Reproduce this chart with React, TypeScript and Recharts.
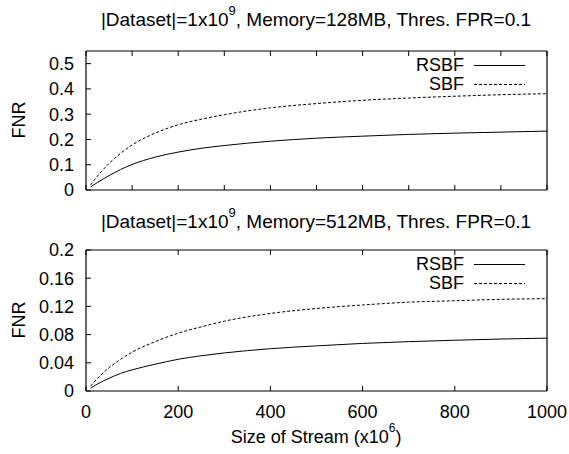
import React from 'react';
import { LineChart, Line, XAxis, YAxis, Legend } from 'recharts';

const streamSize = [10, 25, 50, 75, 100, 150, 200, 250, 300, 400, 500, 600, 700, 800, 900, 1000];
const rsbf128 = [0.012, 0.03, 0.057, 0.081, 0.101, 0.13, 0.15, 0.165, 0.176, 0.193, 0.205, 0.213, 0.22, 0.225, 0.229, 0.233];
const sbf128 = [0.02, 0.055, 0.105, 0.145, 0.178, 0.225, 0.258, 0.28, 0.298, 0.325, 0.342, 0.355, 0.364, 0.371, 0.377, 0.381];
const rsbf512 = [0.004, 0.01, 0.018, 0.025, 0.03, 0.038, 0.045, 0.05, 0.054, 0.06, 0.064, 0.0675, 0.07, 0.072, 0.0737, 0.075];
const sbf512 = [0.007, 0.018, 0.033, 0.045, 0.055, 0.07, 0.082, 0.091, 0.099, 0.11, 0.117, 0.122, 0.126, 0.128, 0.13, 0.131];

const seriesNames = ['RSBF', 'SBF'];
const topYTicks = [0, 0.1, 0.2, 0.3, 0.4, 0.5];
const bottomYTicks = [0, 0.04, 0.08, 0.12, 0.16, 0.2];
const topXTicks = [0, 100, 200, 300, 400, 500, 600, 700, 800, 900, 1000];
const bottomXTicks = [0, 200, 400, 600, 800, 1000];

const FONT = '"Liberation Sans", Arial, Helvetica, sans-serif';
const DASH = '3 2';
const TICK_FONT = 18;
const Y_MARGIN = 12;
const X_MARGIN = 14;
const TICK_LEN = 5;

const topData = streamSize.map((x, i) => ({ x, RSBF: rsbf128[i], SBF: sbf128[i] }));
const bottomData = streamSize.map((x, i) => ({ x, RSBF: rsbf512[i], SBF: sbf512[i] }));

const YTick = (props: any) => {
  const { x, y, payload } = props;
  const ax = x + Y_MARGIN;
  return (
    <g>
      <line x1={ax} x2={ax + TICK_LEN} y1={y} y2={y} stroke="#000" strokeWidth={1} />
      <text x={x} y={y} dy="0.36em" textAnchor="end" fill="#000" fontSize={TICK_FONT} fontFamily={FONT}>
        {payload.value}
      </text>
    </g>
  );
};

const makeXTick = (showLabel: boolean) => (props: any) => {
  const { x, y, payload } = props;
  const ay = y - X_MARGIN;
  return (
    <g>
      <line x1={x} x2={x} y1={ay} y2={ay - TICK_LEN} stroke="#000" strokeWidth={1} />
      {showLabel ? (
        <text x={x} y={y} dy="0.72em" textAnchor="middle" fill="#000" fontSize={TICK_FONT} fontFamily={FONT}>
          {payload.value}
        </text>
      ) : null}
    </g>
  );
};

const TopTick = (props: any) => {
  const { x, y } = props;
  return <line x1={x} x2={x} y1={y} y2={y + TICK_LEN} stroke="#000" strokeWidth={1} />;
};

const LegendBox = () => (
  <div style={{ fontFamily: FONT, fontSize: 18, color: '#000' }}>
    {seriesNames.map((name, i) => (
      <div key={name} style={{ display: 'flex', alignItems: 'center', height: 19, justifyContent: 'flex-end' }}>
        <span style={{ lineHeight: '19px' }}>{name}</span>
        <svg width={61} height={19} style={{ display: 'block' }}>
          <line x1={10} x2={61} y1={9.5} y2={9.5} stroke="#000" strokeWidth={1} strokeDasharray={i === 1 ? DASH : undefined} />
        </svg>
      </div>
    ))}
  </div>
);

type PanelProps = {
  data: { x: number; RSBF: number; SBF: number }[];
  yTicks: number[];
  yDomain: [number, number];
  xTicks: number[];
  showXLabels: boolean;
  height: number;
  marginTop: number;
  marginBottom: number;
  xAxisHeight: number;
};

const Panel = ({ data, yTicks, yDomain, xTicks, showXLabels, height, marginTop, marginBottom, xAxisHeight }: PanelProps) => (
  <LineChart
    width={569}
    height={height}
    data={data}
    margin={{ top: marginTop, right: 21, left: 26, bottom: marginBottom }}
    style={{ fontFamily: FONT }}
  >
    <XAxis
      dataKey="x"
      type="number"
      domain={[0, 1000]}
      ticks={xTicks}
      interval={0}
      height={xAxisHeight}
      tickSize={0}
      tickMargin={X_MARGIN}
      tickLine={false}
      tick={makeXTick(showXLabels)}
      axisLine={{ stroke: '#000', strokeWidth: 1.2 }}
    />
    <XAxis
      xAxisId="top"
      dataKey="x"
      type="number"
      orientation="top"
      domain={[0, 1000]}
      ticks={xTicks}
      interval={0}
      height={1}
      tickSize={0}
      tickMargin={0}
      tickLine={false}
      tick={TopTick}
      axisLine={{ stroke: '#000', strokeWidth: 1.2 }}
    />
    <YAxis
      yAxisId="left"
      type="number"
      domain={yDomain}
      ticks={yTicks}
      interval={0}
      width={60}
      tickSize={0}
      tickMargin={Y_MARGIN}
      tickLine={false}
      tick={YTick}
      axisLine={{ stroke: '#000', strokeWidth: 1.2 }}
    />
    <YAxis
      yAxisId="right"
      orientation="right"
      type="number"
      domain={yDomain}
      width={1}
      tick={false}
      tickLine={false}
      axisLine={{ stroke: '#000', strokeWidth: 1.2 }}
    />
    {seriesNames.map((name, i) => (
      <Line
        key={name}
        yAxisId="left"
        dataKey={name}
        type="monotone"
        stroke="#000"
        strokeWidth={1}
        strokeDasharray={i === 1 ? DASH : undefined}
        dot={false}
        isAnimationActive={false}
      />
    ))}
    <Legend
      layout="vertical"
      align="center"
      verticalAlign="middle"
      content={() => <LegendBox />}
      wrapperStyle={{ position: 'absolute', left: 380, top: marginTop + 6, width: 145 }}
    />
  </LineChart>
);

const textStyle: React.CSSProperties = {
  position: 'absolute',
  fontFamily: FONT,
  color: '#000',
  whiteSpace: 'nowrap',
};

const Title = ({ memory, top }: { memory: string; top: number }) => (
  <div style={{ ...textStyle, left: 0, width: 632, top, textAlign: 'center', fontSize: 19, lineHeight: '22px' }}>
    |Dataset|=1x10<sup style={{ fontSize: 13, verticalAlign: 'top', lineHeight: '13px', position: 'relative', top: -5 }}>9</sup>, Memory={memory}, Thres. FPR=0.1
  </div>
);

const FNRLabel = ({ centerY }: { centerY: number }) => (
  <div style={{ ...textStyle, left: 19, top: centerY, fontSize: 18, lineHeight: '20px', transform: 'translate(-50%, -50%) rotate(-90deg)' }}>FNR</div>
);

export default function App() {
  return (
    <div style={{ position: 'absolute', left: 0, top: 0, width: 569, height: 454, background: '#fff' }}>
      <div style={{ position: 'absolute', left: 0, top: 0 }}>
        <Panel data={topData} yTicks={topYTicks} yDomain={[0, 0.55]} xTicks={topXTicks} showXLabels={false} height={200} marginTop={50} marginBottom={0} xAxisHeight={10} />
      </div>
      <div style={{ position: 'absolute', left: 0, top: 200 }}>
        <Panel data={bottomData} yTicks={bottomYTicks} yDomain={[0, 0.2]} xTicks={bottomXTicks} showXLabels={true} height={254} marginTop={49} marginBottom={13} xAxisHeight={50} />
      </div>
      <Title memory="128MB" top={9} />
      <Title memory="512MB" top={211} />
      <FNRLabel centerY={120} />
      <FNRLabel centerY={320} />
      <div style={{ ...textStyle, left: 0, width: 632, top: 426, textAlign: 'center', fontSize: 18, lineHeight: '22px' }}>
        Size of Stream (x10<sup style={{ fontSize: 12, verticalAlign: 'top', lineHeight: '12px', position: 'relative', top: -4 }}>6</sup>)
      </div>
    </div>
  );
}
